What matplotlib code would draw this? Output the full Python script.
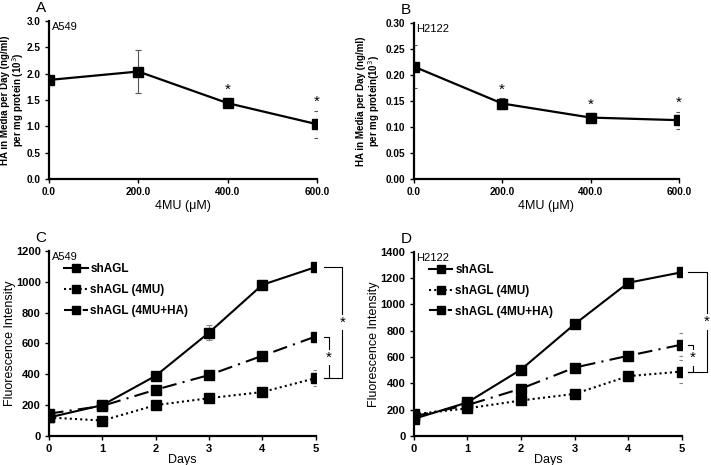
import matplotlib
matplotlib.use("Agg")
import matplotlib.pyplot as plt
from matplotlib.lines import Line2D

plt.rcParams['font.family'] = ['Liberation Sans', 'DejaVu Sans']

# panel A / B : HA secretion vs 4MU dose
dose = [0, 200, 400, 600]
dose_labels = ["0.0", "200.0", "400.0", "600.0"]
ha_a549 = [1.88, 2.04, 1.44, 1.04]
ha_a549_err = [0.08, 0.40, 0.06, 0.26]
ha_h2122 = [0.216, 0.145, 0.118, 0.113]
ha_h2122_err = [0.042, 0.010, 0.009, 0.016]
star_a = [False, False, True, True]
star_b = [False, True, True, True]

# panel C / D : proliferation over days
days = [0, 1, 2, 3, 4, 5]
c_shagl = [120, 200, 390, 670, 980, 1095]
c_shagl_err = [10, 10, 15, 50, 30, 15]
c_4mu = [120, 100, 200, 245, 285, 375]
c_4mu_err = [10, 10, 10, 15, 15, 50]
c_ha = [145, 195, 300, 395, 520, 645]
c_ha_err = [10, 10, 15, 25, 15, 25]

d_shagl = [130, 255, 505, 850, 1165, 1245]
d_shagl_err = [10, 10, 20, 15, 15, 15]
d_4mu = [165, 210, 270, 320, 455, 490]
d_4mu_err = [10, 10, 10, 15, 15, 90]
d_ha = [150, 235, 360, 520, 610, 695]
d_ha_err = [10, 10, 10, 15, 15, 90]

series_names = ["shAGL", "shAGL (4MU)", "shAGL (4MU+HA)"]

fig = plt.figure(figsize=(7.11, 4.65), dpi=100)
axA = fig.add_axes([0.0689, 0.615, 0.377, 0.340])
axB = fig.add_axes([0.582, 0.615, 0.373, 0.336])
axC = fig.add_axes([0.0689, 0.0624, 0.375, 0.398])
axD = fig.add_axes([0.582, 0.0624, 0.377, 0.396])


def style_axes(ax, fs):
    ax.spines['top'].set_visible(False)
    ax.spines['right'].set_visible(False)
    ax.spines['left'].set_linewidth(1.6)
    ax.spines['bottom'].set_linewidth(1.6)
    ax.tick_params(direction='out', length=3, width=1, pad=3)
    for lab in ax.get_xticklabels() + ax.get_yticklabels():
        lab.set_fontsize(fs)
        lab.set_fontweight('bold')


def dose_panel(ax, y, err, stars, ylim, yticks, fmt, cell, ylabel, letter, lab_x):
    ax.errorbar(dose, y, yerr=err, color='black', lw=1.6, marker='s', ms=7,
                ecolor='#555555', elinewidth=0.8, capsize=2.5, capthick=0.8)
    ax.set_xlim(0, 600)
    ax.set_ylim(*ylim)
    ax.set_xticks(dose)
    ax.set_xticklabels(dose_labels)
    ax.set_yticks(yticks)
    ax.set_yticklabels([fmt.format(v) for v in yticks])
    for xv, yv, ev, s in zip(dose, y, err, stars):
        if s:
            ax.text(xv, yv + max(ev, ylim[1] * 0.03) + ylim[1] * 0.01, "*",
                    ha='center', va='bottom', fontsize=11)
    ax.text(0.01, 0.995, cell, transform=ax.transAxes, fontsize=8, va='top', ha='left')
    ax.set_xlabel("4MU (μM)", fontsize=9, labelpad=2)
    ax.set_ylabel(ylabel, fontsize=7.0, fontweight='bold', linespacing=1.0)
    ax.yaxis.set_label_coords(lab_x, 0.5)
    ax.text(-0.03, 1.04, letter, transform=ax.transAxes, fontsize=11, ha='center', va='bottom')
    style_axes(ax, 7.2)


dose_panel(axA, ha_a549, ha_a549_err, star_a, (0, 3.0),
           [0, 0.5, 1.0, 1.5, 2.0, 2.5, 3.0], "{:.1f}", "A549",
           "HA in Media per Day (ng/ml)\nper mg protein (10$^3$)", "A", -0.085)
dose_panel(axB, ha_h2122, ha_h2122_err, star_b, (0, 0.30),
           [0, 0.05, 0.10, 0.15, 0.20, 0.25, 0.30], "{:.2f}", "H2122",
           "HA in Media per Day (ng/ml)\nper mg protein(10$^3$)", "B", -0.12)


def day_panel(ax, s1, e1, s2, e2, s3, e3, ymax, cell, letter, bx):
    ebkw = dict(color='black', marker='s', ms=7, ecolor='#888888',
                elinewidth=0.8, capsize=2.5, capthick=0.8)
    ax.errorbar(days, s1, yerr=e1, lw=1.5, ls='-', **ebkw)
    ax.errorbar(days, s2, yerr=e2, lw=1.5, ls=(0, (1, 1.5)), **ebkw)
    ax.errorbar(days, s3, yerr=e3, lw=1.5, ls=(0, (7, 3, 1, 3)), **ebkw)
    ax.set_xlim(0, 5)
    ax.set_ylim(0, ymax)
    ax.set_xticks(days)
    ax.set_yticks(range(0, ymax + 1, 200))
    ax.set_xlabel("Days", fontsize=9, labelpad=0)
    ax.set_ylabel("Fluorescence Intensity", fontsize=9)
    ax.yaxis.set_label_coords(-0.125, 0.5)
    ax.text(0.01, 0.995, cell, transform=ax.transAxes, fontsize=8, va='top', ha='left')
    ax.text(-0.03, 1.03, letter, transform=ax.transAxes, fontsize=11, ha='center', va='bottom')

    handles = [
        Line2D([], [], color='black', lw=1.5, ls='-', marker='s', ms=6),
        Line2D([], [], color='black', lw=1.5, ls=(0, (1, 1.5)), marker='s', ms=6),
        Line2D([], [], color='black', lw=1.5, ls=(0, (4, 2, 1, 2)), marker='s', ms=6),
    ]
    leg = ax.legend(handles, series_names, loc='upper left', bbox_to_anchor=(0.056, 0.935),
                    frameon=False, borderpad=0, borderaxespad=0, handlelength=2.0,
                    handletextpad=0.25, labelspacing=0.75,
                    prop=dict(size=8.5, weight='bold'))

    # significance brackets
    outer_x, inner_x, start = bx
    kw = dict(color='black', lw=0.8, clip_on=False)
    ax.plot([start, outer_x, outer_x, start], [s1[-1], s1[-1], s2[-1], s2[-1]], **kw)
    ax.plot([start, inner_x, inner_x, start], [s3[-1], s3[-1], s2[-1], s2[-1]], **kw)
    mid_out = (s1[-1] + s2[-1]) / 2
    mid_in = (s3[-1] + s2[-1]) / 2
    ax.text(outer_x, mid_out, "*", ha='center', va='center', fontsize=11,
            bbox=dict(fc='white', ec='none', pad=0.5), clip_on=False)
    ax.text(inner_x, mid_in, "*", ha='center', va='center', fontsize=11,
            bbox=dict(fc='white', ec='none', pad=0.5), clip_on=False)
    style_axes(ax, 8)
    for t in leg.get_texts():
        t.set_fontweight('bold')


day_panel(axC, c_shagl, c_shagl_err, c_4mu, c_4mu_err, c_ha, c_ha_err,
          1200, "A549", "C", (5.5, 5.25, 5.15))
day_panel(axD, d_shagl, d_shagl_err, d_4mu, d_4mu_err, d_ha, d_ha_err,
          1400, "H2122", "D", (5.47, 5.2, 5.12))

fig.savefig("out.png", dpi=100)
